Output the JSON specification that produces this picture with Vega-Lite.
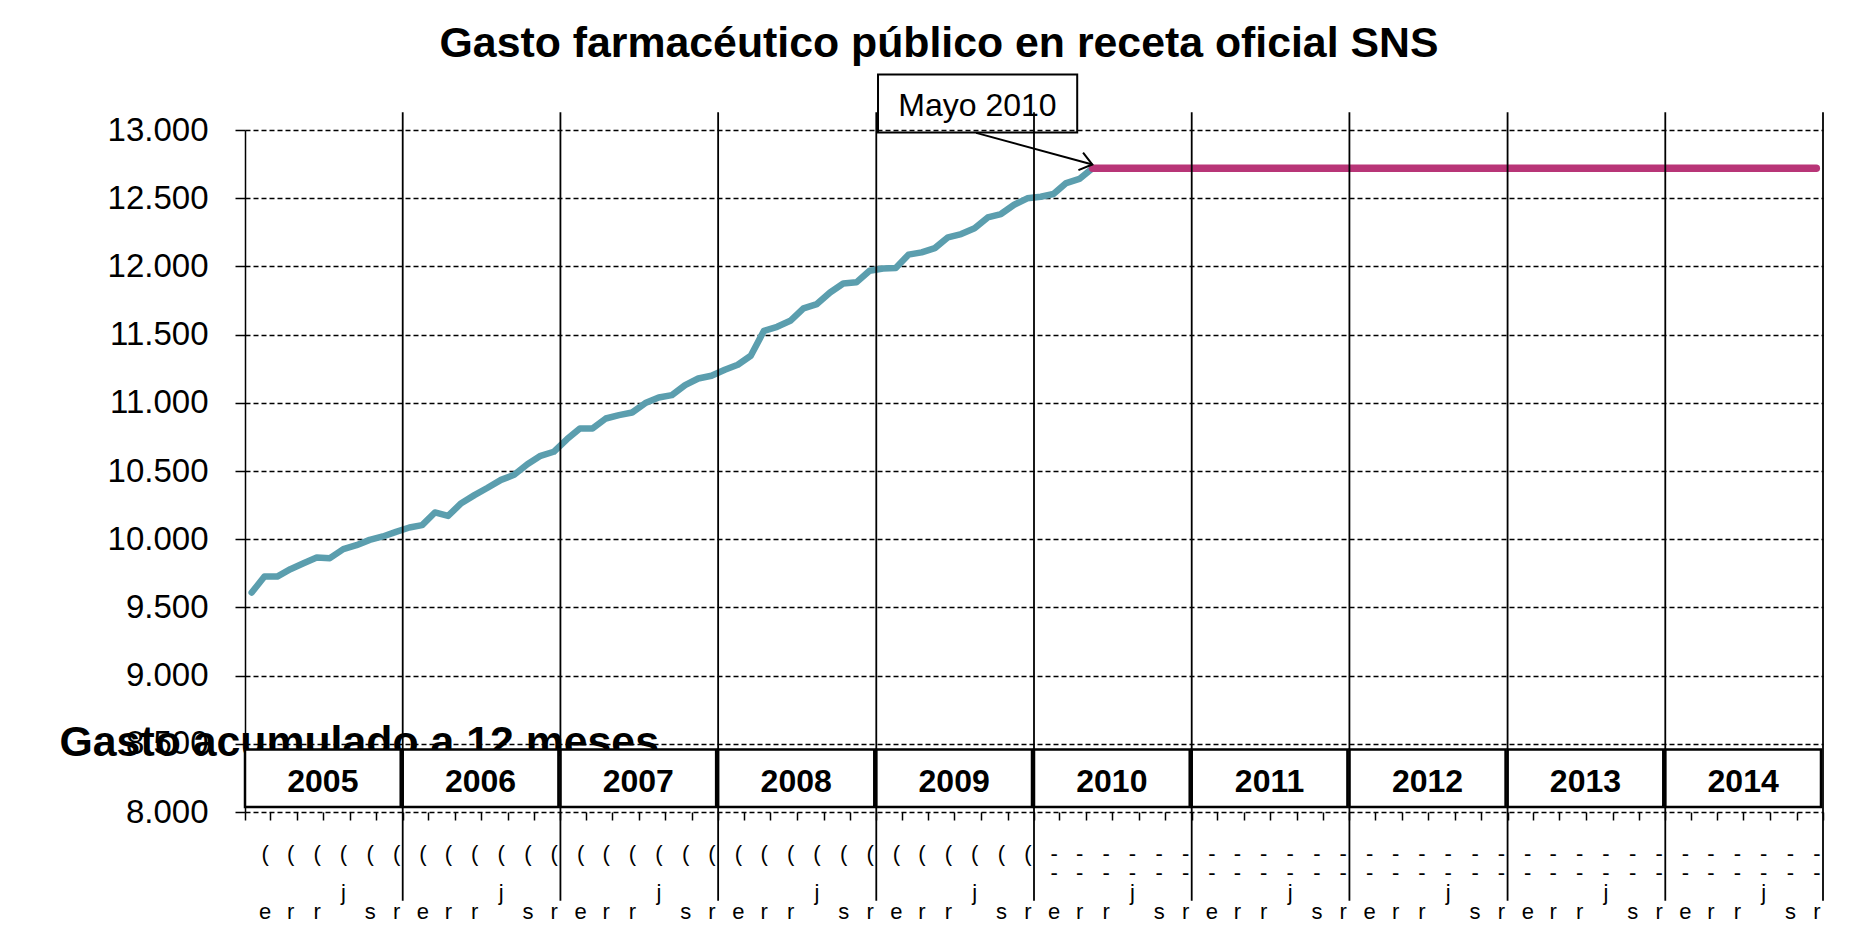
{
  "$schema": "https://vega.github.io/schema/vega-lite/v6.json",
  "width": 1578,
  "height": 682,
  "autosize": "none",
  "padding": {"left": 245, "top": 130, "right": 28, "bottom": 137},
  "background": "white",
  "config": {"view": {"stroke": null}},
  "resolve": {"axis": {"x": "independent", "y": "independent"}},
  "title": {
    "text": "Gasto farmacéutico público en receta oficial SNS",
    "font": "Liberation Sans",
    "fontSize": 42.8,
    "fontWeight": "bold",
    "color": "black",
    "anchor": "middle",
    "frame": "group",
    "dx": -95,
    "baseline": "alphabetic",
    "offset": -26
  },
  "datasets": {
    "real": [
      {"mes": "2005-01", "valor": 9609}, {"mes": "2005-02", "valor": 9726}, {"mes": "2005-03", "valor": 9726}, {"mes": "2005-04", "valor": 9780},
      {"mes": "2005-05", "valor": 9824}, {"mes": "2005-06", "valor": 9866}, {"mes": "2005-07", "valor": 9861}, {"mes": "2005-08", "valor": 9927},
      {"mes": "2005-09", "valor": 9956}, {"mes": "2005-10", "valor": 9995}, {"mes": "2005-11", "valor": 10020}, {"mes": "2005-12", "valor": 10054},
      {"mes": "2006-01", "valor": 10086}, {"mes": "2006-02", "valor": 10103}, {"mes": "2006-03", "valor": 10196}, {"mes": "2006-04", "valor": 10171},
      {"mes": "2006-05", "valor": 10264}, {"mes": "2006-06", "valor": 10323}, {"mes": "2006-07", "valor": 10377}, {"mes": "2006-08", "valor": 10435},
      {"mes": "2006-09", "valor": 10472}, {"mes": "2006-10", "valor": 10550}, {"mes": "2006-11", "valor": 10611}, {"mes": "2006-12", "valor": 10641},
      {"mes": "2007-01", "valor": 10734}, {"mes": "2007-02", "valor": 10812}, {"mes": "2007-03", "valor": 10812}, {"mes": "2007-04", "valor": 10885},
      {"mes": "2007-05", "valor": 10910}, {"mes": "2007-06", "valor": 10929}, {"mes": "2007-07", "valor": 10998}, {"mes": "2007-08", "valor": 11039},
      {"mes": "2007-09", "valor": 11056}, {"mes": "2007-10", "valor": 11130}, {"mes": "2007-11", "valor": 11178}, {"mes": "2007-12", "valor": 11198},
      {"mes": "2008-01", "valor": 11242}, {"mes": "2008-02", "valor": 11279}, {"mes": "2008-03", "valor": 11345}, {"mes": "2008-04", "valor": 11528},
      {"mes": "2008-05", "valor": 11557}, {"mes": "2008-06", "valor": 11601}, {"mes": "2008-07", "valor": 11692}, {"mes": "2008-08", "valor": 11724},
      {"mes": "2008-09", "valor": 11809}, {"mes": "2008-10", "valor": 11875}, {"mes": "2008-11", "valor": 11883}, {"mes": "2008-12", "valor": 11968},
      {"mes": "2009-01", "valor": 11985}, {"mes": "2009-02", "valor": 11988}, {"mes": "2009-03", "valor": 12086}, {"mes": "2009-04", "valor": 12103},
      {"mes": "2009-05", "valor": 12134}, {"mes": "2009-06", "valor": 12213}, {"mes": "2009-07", "valor": 12237}, {"mes": "2009-08", "valor": 12279},
      {"mes": "2009-09", "valor": 12359}, {"mes": "2009-10", "valor": 12384}, {"mes": "2009-11", "valor": 12452}, {"mes": "2009-12", "valor": 12499},
      {"mes": "2010-01", "valor": 12511}, {"mes": "2010-02", "valor": 12531}, {"mes": "2010-03", "valor": 12611}, {"mes": "2010-04", "valor": 12641},
      {"mes": "2010-05", "valor": 12720}
    ],
    "plano": [
      {"mes": "2010-05", "valor": 12720}, {"mes": "2010-06", "valor": 12720}, {"mes": "2010-07", "valor": 12720}, {"mes": "2010-08", "valor": 12720},
      {"mes": "2010-09", "valor": 12720}, {"mes": "2010-10", "valor": 12720}, {"mes": "2010-11", "valor": 12720}, {"mes": "2010-12", "valor": 12720},
      {"mes": "2011-01", "valor": 12720}, {"mes": "2011-02", "valor": 12720}, {"mes": "2011-03", "valor": 12720}, {"mes": "2011-04", "valor": 12720},
      {"mes": "2011-05", "valor": 12720}, {"mes": "2011-06", "valor": 12720}, {"mes": "2011-07", "valor": 12720}, {"mes": "2011-08", "valor": 12720},
      {"mes": "2011-09", "valor": 12720}, {"mes": "2011-10", "valor": 12720}, {"mes": "2011-11", "valor": 12720}, {"mes": "2011-12", "valor": 12720},
      {"mes": "2012-01", "valor": 12720}, {"mes": "2012-02", "valor": 12720}, {"mes": "2012-03", "valor": 12720}, {"mes": "2012-04", "valor": 12720},
      {"mes": "2012-05", "valor": 12720}, {"mes": "2012-06", "valor": 12720}, {"mes": "2012-07", "valor": 12720}, {"mes": "2012-08", "valor": 12720},
      {"mes": "2012-09", "valor": 12720}, {"mes": "2012-10", "valor": 12720}, {"mes": "2012-11", "valor": 12720}, {"mes": "2012-12", "valor": 12720},
      {"mes": "2013-01", "valor": 12720}, {"mes": "2013-02", "valor": 12720}, {"mes": "2013-03", "valor": 12720}, {"mes": "2013-04", "valor": 12720},
      {"mes": "2013-05", "valor": 12720}, {"mes": "2013-06", "valor": 12720}, {"mes": "2013-07", "valor": 12720}, {"mes": "2013-08", "valor": 12720},
      {"mes": "2013-09", "valor": 12720}, {"mes": "2013-10", "valor": 12720}, {"mes": "2013-11", "valor": 12720}, {"mes": "2013-12", "valor": 12720},
      {"mes": "2014-01", "valor": 12720}, {"mes": "2014-02", "valor": 12720}, {"mes": "2014-03", "valor": 12720}, {"mes": "2014-04", "valor": 12720},
      {"mes": "2014-05", "valor": 12720}, {"mes": "2014-06", "valor": 12720}, {"mes": "2014-07", "valor": 12720}, {"mes": "2014-08", "valor": 12720},
      {"mes": "2014-09", "valor": 12720}, {"mes": "2014-10", "valor": 12720}, {"mes": "2014-11", "valor": 12720}, {"mes": "2014-12", "valor": 12720}
    ],
    "anios": [
      {"anio": "2005", "fin": "2006"}, {"anio": "2006", "fin": "2007"}, {"anio": "2007", "fin": "2008"}, {"anio": "2008", "fin": "2009"},
      {"anio": "2009", "fin": "2010"}, {"anio": "2010", "fin": "2011"}, {"anio": "2011", "fin": "2012"}, {"anio": "2012", "fin": "2013"},
      {"anio": "2013", "fin": "2014"}, {"anio": "2014", "fin": "2015"}
    ],
    "limites": [
      {"limite": "2006"}, {"limite": "2007"}, {"limite": "2008"}, {"limite": "2009"}, {"limite": "2010"},
      {"limite": "2011"}, {"limite": "2012"}, {"limite": "2013"}, {"limite": "2014"}, {"limite": "2015"}
    ],
    "nota": [{"texto": "Mayo 2010"}]
  },
  "layer": [
    {
      "data": {"name": "real"},
      "mark": {"type": "line", "color": "#5b9eae", "strokeWidth": 6.5, "strokeJoin": "round", "strokeCap": "round"},
      "encoding": {
        "x": {
          "field": "mes", "type": "temporal", "timeUnit": "utcyearmonth", "bandPosition": 0.5,
          "scale": {"type": "utc", "domain": [{"year": 2005, "month": 1, "date": 1, "utc": true}, {"year": 2015, "month": 1, "date": 1, "utc": true}]},
          "axis": {
            "title": null, "domain": false, "grid": false,
            "ticks": true, "tickColor": "black", "tickWidth": 1.5, "tickSize": 8,
            "tickCount": {"interval": "month", "step": 2},
            "labelExpr": "utcyear(datum.value) > 2014 ? '' : [utcyear(datum.value) < 2010 ? '(' : '-', utcyear(datum.value) < 2010 ? '\u2800' : '-', utcmonth(datum.value) == 6 ? 'j' : '\u2800', ['e','\u2800','r','\u2800','r','\u2800','\u2800','\u2800','s','\u2800','r','\u2800'][utcmonth(datum.value)]]",
            "labelOffset": 19.7, "labelPadding": 23, "labelFont": "Liberation Sans", "labelFontSize": 22,
            "labelLineHeight": 19.5, "labelColor": "black", "labelOverlap": false, "labelBound": false, "labelFlush": false,
            "labelAngle": 0, "labelAlign": "center", "labelBaseline": "top"
          }
        },
        "y": {
          "field": "valor", "type": "quantitative",
          "scale": {"domain": [8000, 13000], "nice": false, "zero": false},
          "axis": {
            "title": "Gasto acumulado a 12 meses", "titleAngle": 0, "titleAlign": "left", "titleBaseline": "alphabetic",
            "titleX": -186, "titleY": 625, "titleFont": "Liberation Sans", "titleFontSize": 42.8, "titleFontWeight": "bold", "titleColor": "black",
            "values": [8000, 8500, 9000, 9500, 10000, 10500, 11000, 11500, 12000, 12500, 13000],
            "labelExpr": "replace(format(datum.value, ',.0f'), ',', '.')",
            "labelFont": "Liberation Sans", "labelFontSize": 33, "labelColor": "black", "labelPadding": 27,
            "tickSize": 10, "tickColor": "black", "tickWidth": 1.5,
            "domain": true, "domainColor": "black", "domainWidth": 1.5,
            "grid": true, "gridColor": "black", "gridDash": [5, 3], "gridWidth": 1.5, "gridOpacity": 1
          }
        }
      }
    },
    {
      "data": {"name": "plano"},
      "mark": {"type": "line", "color": "#b83577", "strokeWidth": 7.5, "strokeCap": "round"},
      "encoding": {
        "x": {"field": "mes", "type": "temporal", "timeUnit": "utcyearmonth", "bandPosition": 0.5, "axis": null,
              "scale": {"type": "utc", "domain": [{"year": 2005, "month": 1, "date": 1, "utc": true}, {"year": 2015, "month": 1, "date": 1, "utc": true}]}},
        "y": {"field": "valor", "type": "quantitative", "axis": null, "scale": {"domain": [8000, 13000], "nice": false, "zero": false}}
      }
    },
    {
      "data": {"name": "anios"},
      "mark": {"type": "rect", "fill": "white", "stroke": "black", "strokeWidth": 2.5, "x2Offset": -2},
      "encoding": {
        "x": {"field": "anio", "type": "temporal", "axis": null,
              "scale": {"type": "utc", "domain": [{"year": 2005, "month": 1, "date": 1, "utc": true}, {"year": 2015, "month": 1, "date": 1, "utc": true}]}},
        "x2": {"field": "fin"},
        "y": {"datum": 8458, "type": "quantitative", "axis": null, "scale": {"domain": [8000, 13000], "nice": false, "zero": false}},
        "y2": {"datum": 8037}
      }
    },
    {
      "data": {"name": "anios"},
      "mark": {"type": "text", "font": "Liberation Sans", "fontSize": 32, "fontWeight": "bold", "color": "black", "align": "center", "baseline": "alphabetic", "dx": -1},
      "encoding": {
        "x": {"field": "anio", "type": "temporal", "timeUnit": "utcyear", "bandPosition": 0.5, "axis": null,
              "scale": {"type": "utc", "domain": [{"year": 2005, "month": 1, "date": 1, "utc": true}, {"year": 2015, "month": 1, "date": 1, "utc": true}]}},
        "y": {"datum": 8145, "type": "quantitative", "axis": null, "scale": {"domain": [8000, 13000], "nice": false, "zero": false}},
        "text": {"field": "anio", "type": "temporal", "timeUnit": "utcyear", "format": "%Y"}
      }
    },
    {
      "data": {"name": "limites"},
      "mark": {"type": "rule", "color": "black", "strokeWidth": 1.8},
      "encoding": {
        "x": {"field": "limite", "type": "temporal", "axis": null,
              "scale": {"type": "utc", "domain": [{"year": 2005, "month": 1, "date": 1, "utc": true}, {"year": 2015, "month": 1, "date": 1, "utc": true}]}},
        "y": {"datum": 13130, "type": "quantitative", "axis": null, "scale": {"domain": [8000, 13000], "nice": false, "zero": false}},
        "y2": {"datum": 7350}
      }
    },
    {
      "data": {"name": "nota"},
      "mark": {"type": "rect", "fillOpacity": 0, "fill": "white", "stroke": "black", "strokeWidth": 2},
      "encoding": {
        "x": {"datum": {"year": 2009, "month": 1, "date": 5, "utc": true}, "type": "temporal", "axis": null,
              "scale": {"type": "utc", "domain": [{"year": 2005, "month": 1, "date": 1, "utc": true}, {"year": 2015, "month": 1, "date": 1, "utc": true}]}},
        "x2": {"datum": {"year": 2010, "month": 4, "date": 11, "utc": true}},
        "y": {"datum": 13407, "type": "quantitative", "axis": null, "scale": {"domain": [8000, 13000], "nice": false, "zero": false}},
        "y2": {"datum": 12982}
      }
    },
    {
      "data": {"name": "nota"},
      "mark": {"type": "text", "font": "Liberation Sans", "fontSize": 32, "color": "black", "align": "center", "baseline": "alphabetic"},
      "encoding": {
        "x": {"datum": {"year": 2009, "month": 8, "date": 23, "utc": true}, "type": "temporal", "axis": null,
              "scale": {"type": "utc", "domain": [{"year": 2005, "month": 1, "date": 1, "utc": true}, {"year": 2015, "month": 1, "date": 1, "utc": true}]}},
        "y": {"datum": 13099, "type": "quantitative", "axis": null, "scale": {"domain": [8000, 13000], "nice": false, "zero": false}},
        "text": {"field": "texto", "type": "nominal"}
      }
    },
    {
      "data": {"name": "nota"},
      "mark": {"type": "rule", "color": "black", "strokeWidth": 2},
      "encoding": {
        "x": {"datum": {"year": 2009, "month": 8, "date": 20, "utc": true}, "type": "temporal", "axis": null,
              "scale": {"type": "utc", "domain": [{"year": 2005, "month": 1, "date": 1, "utc": true}, {"year": 2015, "month": 1, "date": 1, "utc": true}]}},
        "x2": {"datum": {"year": 2010, "month": 5, "date": 16, "utc": true}},
        "y": {"datum": 12979, "type": "quantitative", "axis": null, "scale": {"domain": [8000, 13000], "nice": false, "zero": false}},
        "y2": {"datum": 12747}
      }
    },
    {
      "data": {"name": "nota"},
      "mark": {"type": "point", "shape": "M-1,-0.75L0,0L-1,0.75", "filled": false, "stroke": "black", "strokeWidth": 2, "size": 576, "angle": 15, "opacity": 1},
      "encoding": {
        "x": {"datum": {"year": 2010, "month": 5, "date": 16, "utc": true}, "type": "temporal", "axis": null,
              "scale": {"type": "utc", "domain": [{"year": 2005, "month": 1, "date": 1, "utc": true}, {"year": 2015, "month": 1, "date": 1, "utc": true}]}},
        "y": {"datum": 12747, "type": "quantitative", "axis": null, "scale": {"domain": [8000, 13000], "nice": false, "zero": false}}
      }
    }
  ]
}
